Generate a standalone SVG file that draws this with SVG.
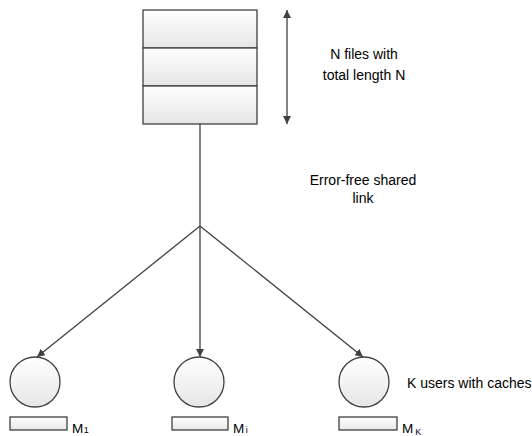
<svg xmlns="http://www.w3.org/2000/svg" width="532" height="436" viewBox="0 0 532 436">
<style>
.box{fill:url(#g);stroke:#404040;stroke-width:1.3}
.ln{fill:none;stroke:#404040;stroke-width:1.3}
.t{font-family:"Liberation Sans",Arial,sans-serif;font-size:14px;fill:#000}
.m{font-family:"Liberation Sans",Arial,sans-serif;font-size:13.5px;fill:#000}
.s{font-size:9px}
</style>
<defs>
<linearGradient id="g" x1="0" y1="0" x2="0" y2="1">
<stop offset="0" stop-color="#ffffff"/>
<stop offset="1" stop-color="#e6e6e6"/>
</linearGradient>
<marker id="a" viewBox="0 0 10 10" refX="10" refY="5" markerWidth="8" markerHeight="8" markerUnits="userSpaceOnUse" orient="auto-start-reverse">
<path d="M0,0 L10,5 L0,10 z" fill="#404040"/>
</marker>
</defs>
<rect width="532" height="436" fill="#fff"/>
<g id="files">
<rect class="box" x="143" y="10" width="114" height="38"/>
<rect class="box" x="143" y="48" width="114" height="38"/>
<rect class="box" x="143" y="86" width="114" height="38"/>
</g>
<g id="connectors">
<line class="ln" x1="200" y1="124" x2="200" y2="226"/>
<line class="ln" x1="200" y1="226" x2="37" y2="357" marker-end="url(#a)"/>
<line class="ln" x1="200" y1="226" x2="200" y2="357" marker-end="url(#a)"/>
<line class="ln" x1="200" y1="226" x2="363" y2="357" marker-end="url(#a)"/>
<line class="ln" x1="287" y1="10" x2="287" y2="124" marker-start="url(#a)" marker-end="url(#a)"/>
</g>
<g id="user1">
<circle class="box" cx="35" cy="382" r="25"/>
<rect class="box" x="10" y="417" width="57" height="13"/>
<text class="m" x="72" y="433">M<tspan class="s" dx="0.5">1</tspan></text>
</g>
<g id="useri">
<circle class="box" cx="199" cy="382" r="25"/>
<rect class="box" x="172" y="417" width="56" height="13"/>
<text class="m" x="233" y="433">M<tspan class="s" dx="1.5">i</tspan></text>
</g>
<g id="userK">
<circle class="box" cx="364" cy="382" r="25"/>
<rect class="box" x="339" y="417" width="58" height="13"/>
<text class="m" x="402" y="433">M<tspan class="s" dx="2" dy="2">K</tspan></text>
</g>
<g id="labels">
<text class="t" x="364" y="59" text-anchor="middle">N files with</text>
<text class="t" x="364" y="80" text-anchor="middle">total length N</text>
<text class="t" x="363" y="185" text-anchor="middle">Error-free shared</text>
<text class="t" x="363" y="203" text-anchor="middle">link</text>
<text class="t" x="407" y="388">K users with caches</text>
</g>
</svg>
